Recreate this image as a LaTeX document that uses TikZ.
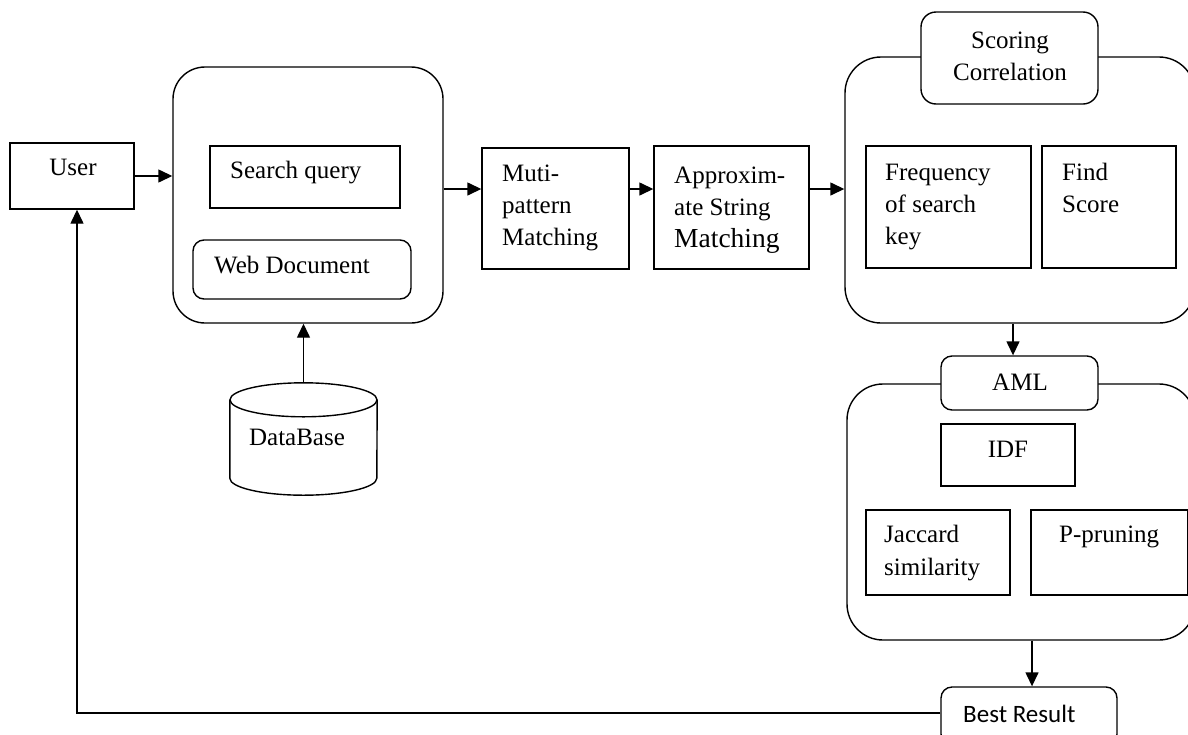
\documentclass[tikz,border=0pt]{standalone}
\usepackage{fontspec}
\setmainfont{Liberation Serif}
\newfontfamily\calibrifont{Carlito}
\usetikzlibrary{arrows.meta}
\tikzset{
  box/.style={draw, line width=1.4pt, inner sep=0pt},
  rbox/.style={box, rounded corners=#1},
  txt/.style={inner sep=0pt, font=\fontsize{25}{32}\selectfont, align=left},
  arr/.style={line width=1.4pt, -{Triangle[length=14pt,width=13pt]}},
  conn/.style={line width=1.4pt}
}
\begin{document}
\begin{tikzpicture}[x=1pt,y=-1pt]
\path[use as bounding box] (0,0) rectangle (1188,734);
\clip (0,0) rectangle (1188,734);
% boxes
\node[box, minimum width=124pt, minimum height=66pt] (user) at (72,176) {};
\node[rbox=32pt, minimum width=270pt, minimum height=256pt] (bigA) at (308,195) {};
\node[box, minimum width=190pt, minimum height=62pt] (sq) at (305,177) {};
\node[rbox=11pt, minimum width=218pt, minimum height=59pt] (wd) at (302,269.5) {};
\node[box, minimum width=147pt, minimum height=121pt] (muti) at (555.5,208.5) {};
\node[box, minimum width=155pt, minimum height=123pt] (approx) at (731.5,207.5) {};
\node[rbox=36pt, minimum width=350pt, minimum height=266pt] (bigB) at (1020,190) {};
\node[rbox=15pt, fill=white, minimum width=177pt, minimum height=92pt] (sc) at (1009.5,58) {};
\node[box, minimum width=165pt, minimum height=122pt] (freq) at (948.5,207) {};
\node[box, minimum width=134pt, minimum height=122pt] (find) at (1109,207) {};
\node[rbox=36pt, minimum width=348pt, minimum height=256pt] (bigC) at (1021,512) {};
\node[rbox=11pt, fill=white, minimum width=157pt, minimum height=54pt] (aml) at (1019.5,383) {};
\node[box, minimum width=134pt, minimum height=62pt] (idf) at (1008,455) {};
\node[box, minimum width=144pt, minimum height=85pt] (jac) at (938,552.5) {};
\node[box, minimum width=157pt, minimum height=85pt] (pp) at (1109.5,552.5) {};
\node[rbox=11pt, minimum width=176pt, minimum height=58pt] (best) at (1029,716) {};
% database cylinder
\node[inner sep=0pt, minimum width=147pt, minimum height=112pt] (db) at (303.5,439) {};
\draw[conn] (db.north) ++(0,17) ellipse [x radius=73.5pt, y radius=17pt];
\draw[conn] ([yshift=-17pt]db.north west) -- ([yshift=17pt]db.south west)
  arc [start angle=180, end angle=360, x radius=73.5pt, y radius=17pt]
  -- ([yshift=-17pt]db.north east);
% texts
\node[txt, anchor=base] (tuser) at (73,175) {User};
\node[txt, anchor=base west] (tsq) at (230,178) {Search query};
\node[txt, anchor=base west] (twd) at (214,273) {Web Document};
\node[txt, anchor=base west] (tmuti) at (502,245) {Muti-\\pattern\\Matching};
\node[txt, anchor=base west] (tapprox) at (674,247) {Approxim-\\ate String\\{\fontsize{27.5}{32}\selectfont Matching}};
\node[txt, anchor=base, align=center] (tsc) at (1010,80) {Scoring\\Correlation};
\node[txt, anchor=base west] (tfreq) at (885,244) {Frequency\\of search\\key};
\node[txt, anchor=base west] (tfind) at (1062,212) {Find\\Score};
\node[txt, anchor=base] (taml) at (1020,390) {AML};
\node[txt, anchor=base] (tidf) at (1008,457) {IDF};
\node[txt, anchor=base west, font=\fontsize{25}{33}\selectfont] (tjac) at (884,575) {Jaccard\\similarity};
\node[txt, anchor=base west] (tpp) at (1059,542) {P-pruning};
\node[txt, anchor=base west, font=\calibrifont\fontsize{25}{30}\selectfont] (tbest) at (963,722) {Best Result};
\node[txt, anchor=base] (tdb) at (297,445) {DataBase};
% connectors
\coordinate (row) at (0,189);
\coordinate (back) at (0,713);
\draw[arr] (user.east) -- (user.east -| bigA.west);
\draw[arr] (bigA.east |- row) -- (muti.west |- row);
\draw[arr] (muti.east |- row) -- (approx.west |- row);
\draw[arr] (approx.east |- row) -- (bigB.west |- row);
\draw[arr] ([xshift=-7pt]bigB.south) -- ([xshift=-7pt]bigB.south |- aml.north);
\draw[arr] ([xshift=11pt]bigC.south) -- ([xshift=11pt]bigC.south |- best.north);
\draw[arr] (best.west |- back) -- ([xshift=5pt]user.south |- back) -- ([xshift=5pt]user.south);
\draw[arr] (db.north) -- (db.north |- bigA.south);
\end{tikzpicture}
\end{document}
